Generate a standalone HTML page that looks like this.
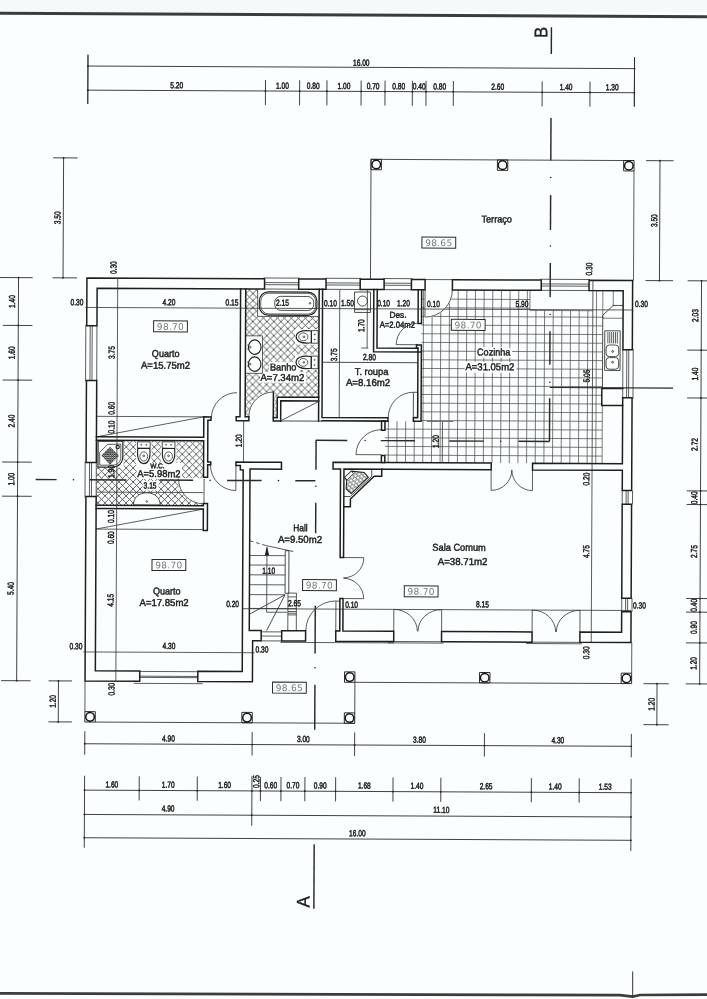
<!DOCTYPE html>
<html lang="pt"><head><meta charset="utf-8"><title>Planta</title>
<style>
html,body{margin:0;padding:0;background:#fbfefe}
body{width:707px;height:999px;overflow:hidden;position:relative;font-family:"Liberation Sans",sans-serif}
svg{position:absolute;left:0;top:0;display:block;will-change:transform}
.w{stroke:#1e1e1e;stroke-width:1.5;fill:#fcfefe;stroke-linejoin:miter;stroke-linecap:square}
polyline.w,line.w{fill:none}
.t{stroke:#353535;stroke-width:.8;fill:none}
.tn{stroke:#2e2e2e;stroke-width:.85;fill:none}
.fx{stroke:#222;stroke-width:1.15;fill:none}
.td{stroke:#333;stroke-width:.8;fill:none;stroke-dasharray:4 2.5}
.g{stroke:#444;stroke-width:.7;fill:none}
.h{fill:url(#hx);stroke:none}
.hd{fill:url(#hdd);stroke:none}
.fb{fill:url(#hb);stroke:#222;stroke-width:1.1}
.wf{fill:#fcfefe;stroke:none}
.ws{fill:#fcfefe;stroke:#fcfefe;stroke-width:1.2}
.wfs{fill:#fcfefe;stroke:#2e2e2e;stroke-width:.85}
.k{fill:#222;stroke:none}
.dl{stroke:#2c2c2c;stroke-width:.9;fill:none}
.s{stroke:#2a2a2a;stroke-width:1.45;fill:none}
.c1{stroke:#222;stroke-width:.95;fill:none}
.c2{stroke:#151515;stroke-width:1.5;fill:none}
.hl{stroke:#262626;stroke-width:1.15;fill:none}
.gy{stroke:#777;stroke-width:1.1;fill:none}
.lv{fill:#fcfefe;stroke:#2a2a2a;stroke-width:1}
text{font-family:"Liberation Sans",sans-serif;text-anchor:middle;fill:#1c1c1c;stroke:#1c1c1c;stroke-width:.3px;text-rendering:geometricPrecision}
.d{font-size:8.8px;stroke-width:.5px}
.l{font-size:10px;stroke-width:.45px}
.lt{font-family:"DejaVu Sans",sans-serif;font-size:9px;fill:#777;stroke:none;letter-spacing:.3px}
.sec{font-size:18.3px;fill:#222;stroke-width:.35px}
</style></head>
<body>
<svg width="707" height="999" viewBox="0 0 707 999">
<defs>
<pattern id="hx" width="7" height="7" patternUnits="userSpaceOnUse"><path d="M0 0L7 7M7 0L0 7" stroke="#3c3c3c" stroke-width=".8" fill="none"/></pattern>
<pattern id="hdd" width="2.2" height="2.2" patternUnits="userSpaceOnUse"><path d="M0 0L2.2 2.2M2.2 0L0 2.2" stroke="#2a2a2a" stroke-width=".75" fill="none"/></pattern>
<pattern id="hb" width="3.4" height="6.8" patternUnits="userSpaceOnUse" patternTransform="rotate(42)"><path d="M0 1.7H3.4M0 5.1H3.4M0.9 1.7V5.1M2.6 5.1V8.5M2.6 -1.7V1.7" stroke="#333" stroke-width=".55" fill="none"/></pattern>
</defs>
<rect x="0" y="0" width="707" height="12" fill="#f6f9f9"/>
<path d="M0 13.3L707 16.7" stroke="#3c3c3c" stroke-width="3.1" fill="none"/>
<path d="M0 993.4L527 994.9L620 995.2L632.7 996.6L640 995L707 994.6" stroke="#3c3c3c" stroke-width="2.7" fill="none"/>
<path d="M632.7 971.5V996.5" stroke="#333" stroke-width="1" fill="none"/>
<g transform="rotate(0.27 353 500)">
<g id="L-hatch">
<rect class="h" x="244.74" y="289.45" width="73.45" height="107.85"/>
<rect class="h" x="244.74" y="397.3" width="28.16" height="20"/>
<rect class="h" x="272.9" y="397.3" width="3.9" height="20.7"/>
<rect class="h" x="96.15" y="441.46" width="107.26" height="64.9"/>
<path class="g" d="M388 420.96V462.4M396.65 420.96V462.4M405.3 420.96V462.4M413.95 420.96V462.4M422.6 289.45V462.4M431.25 289.45V462.4M439.9 289.45V462.4M448.55 289.45V462.4M457.2 289.45V462.4M465.85 289.45V462.4M474.5 289.45V462.4M483.15 289.45V462.4M491.8 289.45V462.4M500.45 289.45V462.4M509.1 289.45V462.4M517.75 289.45V462.4M526.4 289.45V462.4M535.05 309.6V462.4M543.7 309.6V462.4M552.35 309.6V462.4M561 309.6V462.4M569.65 309.6V462.4M578.3 309.6V462.4M586.95 309.6V462.4M595.6 289.45V462.4M420.67 298.68H529M420.67 307.36H529M420.67 316.04H601.9M420.67 324.72H601.9M420.67 333.4H601.9M420.67 342.08H601.9M420.67 350.76H601.9M420.67 359.44H601.9M420.67 368.12H601.9M420.67 376.8H601.9M420.67 385.48H601.9M420.67 394.16H601.9M420.67 402.84H601.9M420.67 411.52H601.9M420.67 420.2H601.9M384.6 428.88H601.9M384.6 437.56H601.9M384.6 446.24H601.9M384.6 454.92H601.9M529 289.45V309.6H592M601.9 289.45V317M612.3 289.45V305.2M601.9 317H622.21"/>
<line class="g" x1="601.9" y1="404.3" x2="601.9" y2="462.4"/>
</g>
<g id="L-fill">
<path class="ws" d="M203.41 479.5L178.41 479.5A25 25 0 0 0 203.41 504.5Z"/>
<path class="ws" d="M273.4 417.3L248.4 417.3A25 25 0 0 1 273.4 392.3Z"/>
<path class="ws" d="M380.8 454.6L380.8 429.6A25 25 0 0 0 355.8 454.6Z"/>
<path class="ws" d="M424.08 289.45L451.38 289.45A27.3 27.3 0 0 1 424.08 316.75Z"/>
<rect class="wf" x="256.7" y="289.45" width="61.49" height="27.35"/>
<rect class="wf" x="294.2" y="329.4" width="24" height="15.4"/>
<rect class="wf" x="294.2" y="354.9" width="24" height="15.4"/>
<rect class="wf" x="244.74" y="336.3" width="17.06" height="37.5"/>
<rect class="wf" x="135.8" y="441.8" width="15.5" height="24"/>
<rect class="wf" x="160.6" y="441.7" width="15.5" height="24"/>
<rect class="wf" x="96.15" y="441.46" width="27.05" height="27.34"/>
<rect class="wf" x="268.5" y="362.5" width="29" height="9.8"/>
<rect class="wf" x="259.5" y="372.3" width="46" height="10.7"/>
<rect class="wf" x="475.5" y="346.5" width="36" height="10.5"/>
<rect class="wf" x="464" y="361" width="52" height="11"/>
<rect class="wf" x="136.5" y="463.8" width="45.5" height="16.2"/>
<rect class="wf" x="142.5" y="481.8" width="16" height="9.7"/>
</g>
<g id="L-thin">
<line class="t" x1="262.53" y1="278.4" x2="298.69" y2="278.4"/>
<line class="t" x1="263.53" y1="283" x2="297.69" y2="283"/>
<line class="t" x1="263.53" y1="285.1" x2="297.69" y2="285.1"/>
<line class="t" x1="263.53" y1="289.45" x2="297.69" y2="289.45"/>
<line class="t" x1="324.02" y1="278.4" x2="360.18" y2="278.4"/>
<line class="t" x1="325.02" y1="283" x2="359.18" y2="283"/>
<line class="t" x1="325.02" y1="285.1" x2="359.18" y2="285.1"/>
<line class="t" x1="325.02" y1="289.45" x2="359.18" y2="289.45"/>
<line class="t" x1="382.09" y1="278.4" x2="411.42" y2="278.4"/>
<line class="t" x1="383.09" y1="283" x2="410.42" y2="283"/>
<line class="t" x1="383.09" y1="285.1" x2="410.42" y2="285.1"/>
<line class="t" x1="383.09" y1="289.45" x2="410.42" y2="289.45"/>
<line class="t" x1="539.23" y1="278.4" x2="589.05" y2="278.4"/>
<line class="t" x1="540.23" y1="283" x2="588.05" y2="283"/>
<line class="t" x1="540.23" y1="285.1" x2="588.05" y2="285.1"/>
<line class="t" x1="540.23" y1="289.45" x2="588.05" y2="289.45"/>
<line class="t" x1="85" y1="326.02" x2="85" y2="382.68"/>
<line class="t" x1="89.4" y1="327.02" x2="89.4" y2="381.68"/>
<line class="t" x1="91.4" y1="327.02" x2="91.4" y2="381.68"/>
<line class="t" x1="96.15" y1="327.02" x2="96.15" y2="381.68"/>
<line class="t" x1="85" y1="462.66" x2="85" y2="498.82"/>
<line class="t" x1="89.4" y1="463.66" x2="89.4" y2="497.82"/>
<line class="t" x1="91.4" y1="463.66" x2="91.4" y2="497.82"/>
<line class="t" x1="96.15" y1="463.66" x2="96.15" y2="497.82"/>
<line class="t" x1="632.5" y1="347.54" x2="632.5" y2="397.37"/>
<line class="t" x1="628.1" y1="348.54" x2="628.1" y2="396.37"/>
<line class="t" x1="626.1" y1="348.54" x2="626.1" y2="396.37"/>
<line class="t" x1="622.21" y1="348.54" x2="622.21" y2="396.37"/>
<line class="t" x1="632.5" y1="489.28" x2="632.5" y2="502.95"/>
<line class="t" x1="628.1" y1="489.28" x2="628.1" y2="502.95"/>
<line class="t" x1="626.1" y1="489.28" x2="626.1" y2="502.95"/>
<line class="t" x1="622.21" y1="489.28" x2="622.21" y2="502.95"/>
<line class="t" x1="632.5" y1="596.89" x2="632.5" y2="610.55"/>
<line class="t" x1="628.1" y1="596.89" x2="628.1" y2="610.55"/>
<line class="t" x1="626.1" y1="596.89" x2="626.1" y2="610.55"/>
<line class="t" x1="622.21" y1="596.89" x2="622.21" y2="610.55"/>
<line class="t" x1="134.56" y1="684.39" x2="203.63" y2="684.39"/>
<line class="t" x1="140.56" y1="678.39" x2="198.63" y2="678.39"/>
<line class="t" x1="140.56" y1="677.19" x2="198.63" y2="677.19"/>
<line class="t" x1="140.56" y1="672.44" x2="198.63" y2="672.44"/>
<line class="t" x1="261.82" y1="632.25" x2="282.32" y2="632.25"/>
<line class="t" x1="261.82" y1="636.45" x2="282.32" y2="636.45"/>
<line class="t" x1="261.82" y1="641.3" x2="282.32" y2="641.3"/>
<line class="t" x1="424.08" y1="279.2" x2="451.41" y2="279.2"/>
<line class="t" x1="281" y1="642.7" x2="394.5" y2="642.7"/>
<line class="t" x1="388.36" y1="642.7" x2="444.19" y2="642.7"/>
<line class="t" x1="526.71" y1="642.7" x2="582.54" y2="642.7"/>
<line class="t" x1="394.36" y1="641.3" x2="442.19" y2="641.3"/>
<line class="t" x1="532.71" y1="641.3" x2="580.54" y2="641.3"/>
<path class="t" d="M211 418.7A25.5 25.5 0 0 1 236.5 393.2"/>
<path class="t" d="M210.3 465.6A25.5 25.5 0 0 0 235.8 491.1"/>
<line class="t" x1="235.8" y1="465.9" x2="235.8" y2="491.1"/>
<path class="t" d="M178.41 479.5A25 25 0 0 0 203.41 504.5"/>
<line class="t" x1="204.01" y1="479.5" x2="204.01" y2="504.3"/>
<path class="t" d="M248.4 417.3A25 25 0 0 1 273.4 392.3"/>
<path class="t" d="M416.95 322.9A21.5 21.5 0 0 0 395.45 344.4"/>
<line class="t" x1="395.45" y1="344.4" x2="417.25" y2="344.4"/>
<path class="t" d="M412.9 392A25 25 0 0 0 387.9 417"/>
<rect class="tn" x="412.9" y="392" width="4.35" height="25"/>
<path class="t" d="M380.8 429.6A25 25 0 0 0 355.8 454.6"/>
<line class="t" x1="355.8" y1="454.6" x2="381.2" y2="454.6"/>
<path class="t" d="M336.4 601.05A30 30 0 0 0 306.4 631.05"/>
<rect class="t" x="336.4" y="601.2" width="3.99" height="29.85"/>
<path class="t" d="M451.38 289.45A27.3 27.3 0 0 1 424.08 316.75"/>
<line class="t" x1="424.08" y1="289.45" x2="424.08" y2="316.75"/>
<path class="t" d="M364.11 557.6A20.3 20.3 0 0 1 343.81 577.9"/>
<line class="t" x1="343.81" y1="557.6" x2="364.11" y2="557.6"/>
<path class="t" d="M364.11 598.6A20.3 20.3 0 0 0 343.81 578.3"/>
<line class="t" x1="343.81" y1="598.6" x2="364.11" y2="598.6"/>
<path class="t" d="M491.04 489.76A20.66 20.66 0 0 0 511.71 469.1"/>
<line class="t" x1="491.04" y1="469.1" x2="491.04" y2="489.76"/>
<path class="t" d="M532.37 489.76A20.66 20.66 0 0 1 511.71 469.1"/>
<line class="t" x1="532.37" y1="469.1" x2="532.37" y2="489.76"/>
<path class="t" d="M394.36 609.2A23.61 21.85 0 0 1 417.98 631.05"/>
<line class="t" x1="394.36" y1="631.05" x2="394.36" y2="609.2"/>
<path class="t" d="M442.19 609.2A23.61 21.85 0 0 0 418.57 631.05"/>
<line class="t" x1="442.19" y1="631.05" x2="442.19" y2="609.2"/>
<path class="t" d="M532.71 609.2A23.61 21.85 0 0 1 556.33 631.05"/>
<line class="t" x1="532.71" y1="631.05" x2="532.71" y2="609.2"/>
<path class="t" d="M580.54 609.2A23.61 21.85 0 0 0 556.92 631.05"/>
<line class="t" x1="580.54" y1="631.05" x2="580.54" y2="609.2"/>
<polyline class="t" points="256.7,289.45 256.7,316.8 318.19,316.8"/>
<rect class="fx" x="258.4" y="292.3" width="57.6" height="23.3" rx="9" ry="9"/>
<rect class="t" x="259.8" y="293.6" width="54.9" height="20.7" rx="8" ry="8"/>
<rect class="tn" x="273.8" y="296.7" width="39" height="14" rx="6" ry="6"/>
<circle class="t" cx="309" cy="303.5" r="0.8"/>
<rect class="tn" x="310.6" y="330.8" width="6.8" height="12.6"/>
<path class="fx" d="M310.6 331.2C299 329.8 295.4 333.6 295.4 337.1C295.4 340.6 299 344.4 310.6 343Z"/>
<ellipse class="t" cx="302.6" cy="337.1" rx="4.6" ry="3.9"/>
<circle class="t" cx="303.2" cy="337.1" r="0.9"/>
<circle class="t" cx="314" cy="334.6" r="0.5"/>
<circle class="t" cx="314" cy="339.6" r="0.5"/>
<rect class="tn" x="310.6" y="356.3" width="6.8" height="12.6"/>
<path class="fx" d="M310.6 356.7C299 355.3 295.4 359.1 295.4 362.6C295.4 366.1 299 369.9 310.6 368.5Z"/>
<ellipse class="t" cx="302.6" cy="362.6" rx="4.6" ry="3.9"/>
<circle class="t" cx="303.2" cy="362.6" r="0.9"/>
<circle class="t" cx="314" cy="360.1" r="0.5"/>
<circle class="t" cx="314" cy="365.1" r="0.5"/>
<polyline class="t" points="244.74,336.3 261.8,336.3 261.8,373.8 244.74,373.8"/>
<ellipse class="fx" cx="254" cy="347.6" rx="6.3" ry="7.2"/>
<circle class="t" cx="249.6" cy="347.6" r="0.8"/>
<line class="t" x1="246.5" y1="345.6" x2="248.8" y2="345.6"/>
<line class="t" x1="246.5" y1="349.6" x2="248.8" y2="349.6"/>
<ellipse class="fx" cx="254" cy="364.6" rx="6.3" ry="7.2"/>
<circle class="t" cx="249.6" cy="364.6" r="0.8"/>
<line class="t" x1="246.5" y1="362.6" x2="248.8" y2="362.6"/>
<line class="t" x1="246.5" y1="366.6" x2="248.8" y2="366.6"/>
<rect class="tn" x="137.2" y="442.8" width="12.7" height="6.6"/>
<path class="fx" d="M137.6 449.4C136.2 461 140 464.6 143.55 464.6C147.1 464.6 150.9 461 149.5 449.4Z"/>
<ellipse class="t" cx="143.55" cy="457.4" rx="3.9" ry="4.6"/>
<circle class="t" cx="143.55" cy="456.8" r="0.9"/>
<circle class="t" cx="141" cy="445.8" r="0.5"/>
<circle class="t" cx="146" cy="445.8" r="0.5"/>
<rect class="tn" x="162" y="442.7" width="12.7" height="6.6"/>
<path class="fx" d="M162.4 449.3C161 460.9 164.8 464.5 168.35 464.5C171.9 464.5 175.7 460.9 174.3 449.3Z"/>
<ellipse class="t" cx="168.35" cy="457.3" rx="3.9" ry="4.6"/>
<circle class="t" cx="168.35" cy="456.7" r="0.9"/>
<circle class="t" cx="165.8" cy="445.7" r="0.5"/>
<circle class="t" cx="170.8" cy="445.7" r="0.5"/>
<path class="fx" d="M97.8 442.26H122.6V457.8C122.6 463.8 118.6 468.3 112.6 468.3H97.8Z"/>
<path class="t" d="M99.4 453.6L107.2 445.6L120.6 445.2V458C120.6 462.6 117.6 466.2 113 466.2L99.6 466.4Z"/>
<polygon class="hd" points="109.9,447.8 118.9,456.8 109.9,465.8 100.9,456.8"/>
<circle class="fx" cx="117.4" cy="448.2" r="1.7"/>
<path class="wfs" d="M133.4 505.96C133.4 497.96 139.8 493.76 146.8 493.76C153.8 493.76 160.2 497.96 160.2 505.96Z"/>
<circle class="t" cx="146.8" cy="502.46" r="0.8"/>
<rect class="tn" x="353.6" y="292" width="16" height="20.4"/>
<circle class="tn" cx="361.6" cy="301" r="5"/>
<line class="t" x1="353.6" y1="309.6" x2="369.6" y2="309.6"/>
<polyline class="tn" points="601.9,387.3 601.9,314.2 612.2,304.2 622.21,304.2"/>
<rect class="wfs" x="604" y="329.6" width="15.4" height="39.6"/>
<line class="t" x1="607.1" y1="330.8" x2="607.1" y2="342.2"/>
<line class="t" x1="609" y1="330.8" x2="609" y2="342.2"/>
<line class="t" x1="610.9" y1="330.8" x2="610.9" y2="342.2"/>
<line class="t" x1="612.8" y1="330.8" x2="612.8" y2="342.2"/>
<line class="t" x1="614.7" y1="330.8" x2="614.7" y2="342.2"/>
<line class="t" x1="616.6" y1="330.8" x2="616.6" y2="342.2"/>
<rect class="tn" x="605.4" y="343.8" width="12.6" height="11.6" rx="3.2"/>
<rect class="tn" x="605.4" y="356.4" width="12.6" height="11.6" rx="3.2"/>
<circle class="tn" cx="612" cy="350.2" r="0.9"/>
<circle class="tn" cx="612" cy="361" r="0.9"/>
<line class="t" x1="96.15" y1="417.55" x2="203.41" y2="417.55"/>
<line class="t" x1="96.15" y1="438.04" x2="203.41" y2="417.55"/>
<line class="t" x1="96.15" y1="530.28" x2="203.41" y2="530.28"/>
<line class="t" x1="96.15" y1="530.28" x2="203.41" y2="509.78"/>
<line class="t" x1="249.87" y1="556" x2="285.5" y2="556"/>
<line class="t" x1="249.87" y1="565.5" x2="285.5" y2="565.5"/>
<line class="t" x1="249.87" y1="575.3" x2="285.5" y2="575.3"/>
<line class="t" x1="249.87" y1="585.2" x2="285.5" y2="585.2"/>
<line class="t" x1="249.87" y1="595.1" x2="285.5" y2="595.1"/>
<line class="td" x1="249.87" y1="541.2" x2="266.3" y2="546"/>
<line class="t" x1="266.3" y1="546" x2="293.6" y2="551.8"/>
<rect class="tn" x="285.5" y="551" width="3.7" height="42.6"/>
<rect class="t" x="288.4" y="593.4" width="8.5" height="37.65"/>
<line class="t" x1="288.4" y1="597.2" x2="296.9" y2="597.2"/>
<polyline class="t" points="267.2,548 267.2,612.6 287.6,612.6"/>
<polygon class="k" points="267.2,546.4 269.4,555.8 265,555.8"/>
<line class="tn" x1="285.5" y1="595.1" x2="249.87" y2="614.8"/>
<line class="tn" x1="285.5" y1="595.1" x2="267.2" y2="631"/>
<line class="t" x1="288.4" y1="611.8" x2="296.9" y2="611.8"/>
<line class="t" x1="288.4" y1="613.5" x2="296.9" y2="613.5"/>
<line class="t" x1="288.4" y1="615.2" x2="296.9" y2="615.2"/>
<line class="t" x1="249.87" y1="608.9" x2="296.9" y2="608.9"/>
<line class="tn" x1="371.6" y1="469.1" x2="371.6" y2="476.2"/>
<line class="tn" x1="343.81" y1="496.6" x2="350.2" y2="496.6"/>
<line class="tn" x1="371.6" y1="476.2" x2="350.2" y2="496.6"/>
<polygon class="fb" points="344.6,477.5 351.2,471.2 364,472.4 368.2,477.1 351.2,493.6 346.1,489 346.6,480.5"/>
<polygon class="wfs" points="344.6,477.4 351,471.3 353.4,473.6 347.1,479.8"/>
<line class="tn" x1="369.43" y1="159.25" x2="632.46" y2="159.25"/>
<line class="tn" x1="369.43" y1="159.25" x2="369.43" y2="279.2"/>
<line class="t" x1="632.46" y1="169.65" x2="632.46" y2="279.2"/>
<rect class="c1" x="369.43" y="159.25" width="10.4" height="10.4"/>
<circle class="c2" cx="374.63" cy="164.45" r="4.3"/>
<rect class="c1" x="495.82" y="159.25" width="10.4" height="10.4"/>
<circle class="c2" cx="501.02" cy="164.45" r="4.3"/>
<rect class="c1" x="622.06" y="159.25" width="10.4" height="10.4"/>
<circle class="c2" cx="627.26" cy="164.45" r="4.3"/>
<line class="tn" x1="96.15" y1="723.28" x2="355.76" y2="723.28"/>
<line class="t" x1="85.9" y1="682.29" x2="85.9" y2="713.03"/>
<rect class="c1" x="85.9" y="712.88" width="10.4" height="10.4"/>
<circle class="c2" cx="91.1" cy="718.08" r="4.3"/>
<rect class="c1" x="242.88" y="712.88" width="10.4" height="10.4"/>
<circle class="c2" cx="248.08" cy="718.08" r="4.3"/>
<rect class="c1" x="345.36" y="712.88" width="10.4" height="10.4"/>
<circle class="c2" cx="350.56" cy="718.08" r="4.3"/>
<line class="tn" x1="355.76" y1="682.29" x2="355.76" y2="712.88"/>
<line class="tn" x1="355.76" y1="682.29" x2="622.21" y2="682.29"/>
<rect class="c1" x="345.36" y="671.89" width="10.4" height="10.4"/>
<circle class="c2" cx="350.56" cy="677.09" r="4.3"/>
<rect class="c1" x="480.37" y="671.89" width="10.4" height="10.4"/>
<circle class="c2" cx="485.57" cy="677.09" r="4.3"/>
<rect class="c1" x="622.06" y="671.89" width="10.4" height="10.4"/>
<circle class="c2" cx="627.26" cy="677.09" r="4.3"/>
<line class="t" x1="632.46" y1="641.3" x2="632.46" y2="671.89"/>
</g>
<g id="L-wall">
<polygon class="w" points="85.9,279.2 263.53,279.2 263.53,289.45 96.15,289.45 96.15,327.02 85.9,327.02"/>
<rect class="w" x="297.69" y="279.2" width="27.33" height="10.25"/>
<rect class="w" x="359.18" y="279.2" width="23.91" height="10.25"/>
<rect class="w" x="410.42" y="279.2" width="13.66" height="10.25"/>
<rect class="w" x="451.41" y="279.2" width="88.82" height="10.25"/>
<polygon class="w" points="588.05,279.2 631.6,279.2 631.6,348.54 622.21,348.54 622.21,289.45 588.05,289.45"/>
<polygon class="w" points="622.21,396.37 631.6,396.37 631.6,489.28 622.21,489.28 622.21,469.1 532.37,469.1 532.37,462.4 622.21,462.4"/>
<rect class="w" x="622.21" y="502.95" width="9.39" height="93.94"/>
<polygon class="w" points="631.6,610.55 631.6,641.3 580.54,641.3 580.54,631.05 622.21,631.05 622.21,610.55"/>
<rect class="w" x="442.19" y="631.05" width="90.52" height="10.25"/>
<polygon class="w" points="340.39,598.6 343.51,598.6 343.51,631.05 394.36,631.05 394.36,641.3 336.4,641.3 336.4,631.05 340.39,631.05"/>
<polygon class="w" points="332.9,462.4 491.04,462.4 491.04,469.1 343.81,469.1 343.81,557.6 340.39,557.6 340.39,469.1 332.9,469.1"/>
<rect class="w" x="381.2" y="420.96" width="3.4" height="9.04"/>
<rect class="w" x="381.2" y="455.3" width="3.4" height="7.1"/>
<rect class="w" x="85.9" y="381.68" width="10.25" height="81.98"/>
<polygon class="w" points="85.9,497.82 96.15,497.82 96.15,672.04 140.56,672.04 140.56,682.29 85.9,682.29"/>
<polygon class="w" points="198.63,672.04 243.04,672.04 243.04,470.4 240.2,470.4 240.2,466.1 235.8,466.1 235.8,462.6 281.3,462.6 281.3,469.5 249.87,469.5 249.87,631.05 261.82,631.05 261.82,641.3 253.28,641.3 253.28,682.29 198.63,682.29"/>
<rect class="w" x="282.32" y="631.05" width="23.91" height="10.25"/>
<polyline class="w" points="239.62,289.45 239.62,417.2 235.8,417.2 235.8,421.2 248.5,421.2 248.5,417.2 244.74,417.2 244.74,289.45"/>
<polyline class="w" points="318.19,289.45 318.19,421.3"/>
<polyline class="w" points="321.6,289.45 321.6,417.55 387.6,417.55 387.6,420.96 321.6,420.96"/>
<polyline class="w" points="272.9,392.3 272.9,421.3 280.3,421.3"/>
<polyline class="w" points="318.19,397.5 276.8,397.5 276.8,418 272.9,418"/>
<polyline class="w" points="318.19,401.1 280.3,401.1 280.3,421.3"/>
<polyline class="w" points="372.84,289.45 372.84,351.6 420.67,351.6"/>
<polyline class="w" points="376.26,289.45 376.26,347.9 417.25,347.9"/>
<polyline class="w" points="417.25,289.45 417.25,323.2 420.67,323.2 420.67,289.45"/>
<polyline class="w" points="417.25,347.9 417.25,417.55 413,417.55 413,420.96 420.67,420.96 420.67,344.8 415.75,344.8 415.75,347.9"/>
<polyline class="w" points="96.15,438.04 203.41,438.04 203.41,417.55 210.58,417.55 210.58,420.95 207.51,420.95 207.51,462.6 210.58,462.6 210.58,465.4 207.51,465.4 207.51,478 203.41,478 203.41,441.46 96.15,441.46"/>
<polyline class="w" points="96.15,506.36 203.41,506.36 203.41,504.3 207.51,504.3 207.51,531.2 203.41,531.2 203.41,509.78 96.15,509.78"/>
<polyline class="w" points="622.21,387.3 601.3,387.3 601.3,404.3 622.21,404.3"/>
<polyline class="w" points="381.6,469.1 381.6,476.2 374,476.2 350.4,499 350.4,506.8 343.81,506.8"/>
</g>
<g id="L-dim">
<line class="tn" x1="280.3" y1="421.3" x2="321.6" y2="421.3"/>
<line class="t" x1="281" y1="420.8" x2="317.6" y2="402"/>
<line class="s" x1="549.2" y1="26.4" x2="549.2" y2="53.1"/>
<line class="s" x1="549.2" y1="117" x2="549.2" y2="159.6"/>
<line class="s" x1="549.2" y1="194.2" x2="549.2" y2="229"/>
<line class="s" x1="549.2" y1="262" x2="549.2" y2="296.2"/>
<line class="s" x1="549.2" y1="330.4" x2="549.2" y2="363.8"/>
<line class="s" x1="549.2" y1="397.4" x2="549.2" y2="440.5"/>
<circle class="k" cx="549.2" cy="176.6" r="0.8"/>
<circle class="k" cx="549.2" cy="245" r="0.8"/>
<circle class="k" cx="549.2" cy="313.6" r="0.8"/>
<circle class="k" cx="549.2" cy="381.3" r="0.8"/>
<line class="s" x1="315.5" y1="440.5" x2="347" y2="440.5"/>
<line class="s" x1="380.5" y1="440.5" x2="414.6" y2="440.5"/>
<line class="s" x1="449" y1="440.5" x2="483.5" y2="440.5"/>
<line class="s" x1="518.2" y1="440.5" x2="549.2" y2="440.5"/>
<circle class="k" cx="364.8" cy="440.5" r="0.8"/>
<circle class="k" cx="500.4" cy="440.5" r="0.8"/>
<line class="s" x1="315.8" y1="440.5" x2="315.8" y2="469.9"/>
<line class="s" x1="315.8" y1="503" x2="315.8" y2="533.4"/>
<line class="s" x1="315.8" y1="606" x2="315.8" y2="653.6"/>
<line class="s" x1="315.8" y1="685" x2="315.8" y2="730"/>
<line class="s" x1="315.8" y1="844.4" x2="315.8" y2="909"/>
<circle class="k" cx="315.8" cy="486.5" r="0.8"/>
<circle class="k" cx="315.8" cy="667.9" r="0.8"/>
<line class="s" x1="35.6" y1="481" x2="56.5" y2="481"/>
<line class="s" x1="89.7" y1="481" x2="126.5" y2="481"/>
<line class="s" x1="159.6" y1="481" x2="193" y2="481"/>
<line class="s" x1="227" y1="481" x2="261.5" y2="481"/>
<line class="s" x1="295.2" y1="481" x2="315.3" y2="481"/>
<circle class="k" cx="73.4" cy="481" r="0.8"/>
<circle class="k" cx="210" cy="481" r="0.8"/>
<circle class="k" cx="278.4" cy="481" r="0.8"/>
<line class="dl" x1="85.9" y1="67.3" x2="632.46" y2="67.3"/>
<line class="dl" x1="85.9" y1="56" x2="85.9" y2="105.3"/>
<circle class="k" cx="85.9" cy="67.3" r="0.9"/>
<line class="dl" x1="632.46" y1="56" x2="632.46" y2="105.3"/>
<circle class="k" cx="632.46" cy="67.3" r="0.9"/>
<text class="d" x="359.18" y="65.67" textLength="16.53" lengthAdjust="spacingAndGlyphs" style="font-size:8.8px">16.00</text>
<line class="dl" x1="85.9" y1="91.4" x2="632.46" y2="91.4"/>
<line class="dl" x1="85.9" y1="56" x2="85.9" y2="105.3"/>
<circle class="k" cx="85.9" cy="91.4" r="0.9"/>
<line class="dl" x1="263.53" y1="80.5" x2="263.53" y2="105.5"/>
<circle class="k" cx="263.53" cy="91.4" r="0.9"/>
<line class="dl" x1="297.69" y1="80.5" x2="297.69" y2="105.5"/>
<circle class="k" cx="297.69" cy="91.4" r="0.9"/>
<line class="dl" x1="325.02" y1="80.5" x2="325.02" y2="105.5"/>
<circle class="k" cx="325.02" cy="91.4" r="0.9"/>
<line class="dl" x1="359.18" y1="80.5" x2="359.18" y2="105.5"/>
<circle class="k" cx="359.18" cy="91.4" r="0.9"/>
<line class="dl" x1="383.09" y1="80.5" x2="383.09" y2="105.5"/>
<circle class="k" cx="383.09" cy="91.4" r="0.9"/>
<line class="dl" x1="410.42" y1="80.5" x2="410.42" y2="105.5"/>
<circle class="k" cx="410.42" cy="91.4" r="0.9"/>
<line class="dl" x1="424.08" y1="80.5" x2="424.08" y2="105.5"/>
<circle class="k" cx="424.08" cy="91.4" r="0.9"/>
<line class="dl" x1="451.41" y1="80.5" x2="451.41" y2="105.5"/>
<circle class="k" cx="451.41" cy="91.4" r="0.9"/>
<line class="dl" x1="540.23" y1="80.5" x2="540.23" y2="105.5"/>
<circle class="k" cx="540.23" cy="91.4" r="0.9"/>
<line class="dl" x1="588.05" y1="80.5" x2="588.05" y2="105.5"/>
<circle class="k" cx="588.05" cy="91.4" r="0.9"/>
<line class="dl" x1="632.46" y1="56" x2="632.46" y2="105.3"/>
<circle class="k" cx="632.46" cy="91.4" r="0.9"/>
<text class="d" x="174.71" y="89.07" textLength="12.86" lengthAdjust="spacingAndGlyphs" style="font-size:8.8px">5.20</text>
<text class="d" x="280.61" y="89.07" textLength="12.86" lengthAdjust="spacingAndGlyphs" style="font-size:8.8px">1.00</text>
<text class="d" x="311.36" y="89.07" textLength="12.86" lengthAdjust="spacingAndGlyphs" style="font-size:8.8px">0.80</text>
<text class="d" x="342.1" y="89.07" textLength="12.86" lengthAdjust="spacingAndGlyphs" style="font-size:8.8px">1.00</text>
<text class="d" x="371.13" y="89.07" textLength="12.86" lengthAdjust="spacingAndGlyphs" style="font-size:8.8px">0.70</text>
<text class="d" x="396.75" y="89.07" textLength="12.86" lengthAdjust="spacingAndGlyphs" style="font-size:8.8px">0.80</text>
<text class="d" x="417.25" y="89.07" textLength="12.86" lengthAdjust="spacingAndGlyphs" style="font-size:8.8px">0.40</text>
<text class="d" x="437.75" y="89.07" textLength="12.86" lengthAdjust="spacingAndGlyphs" style="font-size:8.8px">0.80</text>
<text class="d" x="495.82" y="89.07" textLength="12.86" lengthAdjust="spacingAndGlyphs" style="font-size:8.8px">2.60</text>
<text class="d" x="564.14" y="89.07" textLength="12.86" lengthAdjust="spacingAndGlyphs" style="font-size:8.8px">1.40</text>
<text class="d" x="610.25" y="89.07" textLength="12.86" lengthAdjust="spacingAndGlyphs" style="font-size:8.8px">1.30</text>
<line class="dl" x1="85.9" y1="745" x2="632.46" y2="745"/>
<line class="dl" x1="85.9" y1="732.5" x2="85.9" y2="756"/>
<circle class="k" cx="85.9" cy="745" r="0.9"/>
<line class="dl" x1="253.28" y1="732.5" x2="253.28" y2="756"/>
<circle class="k" cx="253.28" cy="745" r="0.9"/>
<line class="dl" x1="355.76" y1="732.5" x2="355.76" y2="756"/>
<circle class="k" cx="355.76" cy="745" r="0.9"/>
<line class="dl" x1="485.57" y1="732.5" x2="485.57" y2="756"/>
<circle class="k" cx="485.57" cy="745" r="0.9"/>
<line class="dl" x1="632.46" y1="732.5" x2="632.46" y2="756"/>
<circle class="k" cx="632.46" cy="745" r="0.9"/>
<text class="d" x="169.59" y="742.37" textLength="12.86" lengthAdjust="spacingAndGlyphs" style="font-size:8.8px">4.90</text>
<text class="d" x="304.52" y="742.37" textLength="12.86" lengthAdjust="spacingAndGlyphs" style="font-size:8.8px">3.00</text>
<text class="d" x="420.66" y="742.37" textLength="12.86" lengthAdjust="spacingAndGlyphs" style="font-size:8.8px">3.80</text>
<text class="d" x="559.01" y="742.37" textLength="12.86" lengthAdjust="spacingAndGlyphs" style="font-size:8.8px">4.30</text>
<line class="dl" x1="85.9" y1="791.4" x2="632.46" y2="791.4"/>
<line class="dl" x1="85.9" y1="777" x2="85.9" y2="849"/>
<circle class="k" cx="85.9" cy="791.4" r="0.9"/>
<line class="dl" x1="140.56" y1="777.3" x2="140.56" y2="801.5"/>
<circle class="k" cx="140.56" cy="791.4" r="0.9"/>
<line class="dl" x1="198.63" y1="777.3" x2="198.63" y2="801.5"/>
<circle class="k" cx="198.63" cy="791.4" r="0.9"/>
<line class="dl" x1="253.28" y1="776.6" x2="253.28" y2="826.2"/>
<circle class="k" cx="253.28" cy="791.4" r="0.9"/>
<line class="dl" x1="261.82" y1="777.3" x2="261.82" y2="801.5"/>
<circle class="k" cx="261.82" cy="791.4" r="0.9"/>
<line class="dl" x1="282.32" y1="777.3" x2="282.32" y2="801.5"/>
<circle class="k" cx="282.32" cy="791.4" r="0.9"/>
<line class="dl" x1="306.23" y1="777.3" x2="306.23" y2="801.5"/>
<circle class="k" cx="306.23" cy="791.4" r="0.9"/>
<line class="dl" x1="336.98" y1="777.3" x2="336.98" y2="801.5"/>
<circle class="k" cx="336.98" cy="791.4" r="0.9"/>
<line class="dl" x1="394.36" y1="777.3" x2="394.36" y2="801.5"/>
<circle class="k" cx="394.36" cy="791.4" r="0.9"/>
<line class="dl" x1="442.19" y1="777.3" x2="442.19" y2="801.5"/>
<circle class="k" cx="442.19" cy="791.4" r="0.9"/>
<line class="dl" x1="532.71" y1="777.3" x2="532.71" y2="801.5"/>
<circle class="k" cx="532.71" cy="791.4" r="0.9"/>
<line class="dl" x1="580.54" y1="777.3" x2="580.54" y2="801.5"/>
<circle class="k" cx="580.54" cy="791.4" r="0.9"/>
<line class="dl" x1="632.46" y1="777.5" x2="632.46" y2="849.7"/>
<circle class="k" cx="632.46" cy="791.4" r="0.9"/>
<text class="d" x="113.23" y="788.57" textLength="12.86" lengthAdjust="spacingAndGlyphs" style="font-size:8.8px">1.60</text>
<text class="d" x="169.59" y="788.57" textLength="12.86" lengthAdjust="spacingAndGlyphs" style="font-size:8.8px">1.70</text>
<text class="d" x="225.95" y="788.57" textLength="12.86" lengthAdjust="spacingAndGlyphs" style="font-size:8.8px">1.60</text>
<text class="d" x="272.07" y="788.57" textLength="12.86" lengthAdjust="spacingAndGlyphs" style="font-size:8.8px">0.60</text>
<text class="d" x="294.27" y="788.57" textLength="12.86" lengthAdjust="spacingAndGlyphs" style="font-size:8.8px">0.70</text>
<text class="d" x="321.61" y="788.57" textLength="12.86" lengthAdjust="spacingAndGlyphs" style="font-size:8.8px">0.90</text>
<text class="d" x="365.67" y="788.57" textLength="12.86" lengthAdjust="spacingAndGlyphs" style="font-size:8.8px">1.68</text>
<text class="d" x="418.27" y="788.57" textLength="12.86" lengthAdjust="spacingAndGlyphs" style="font-size:8.8px">1.40</text>
<text class="d" x="487.45" y="788.57" textLength="12.86" lengthAdjust="spacingAndGlyphs" style="font-size:8.8px">2.65</text>
<text class="d" x="556.62" y="788.57" textLength="12.86" lengthAdjust="spacingAndGlyphs" style="font-size:8.8px">1.40</text>
<text class="d" x="606.5" y="788.57" textLength="12.86" lengthAdjust="spacingAndGlyphs" style="font-size:8.8px">1.53</text>
<text class="d" x="257.4" y="785.17" textLength="12.86" lengthAdjust="spacingAndGlyphs" transform="rotate(-90 257.4 782)" style="font-size:8.8px">0.25</text>
<line class="dl" x1="85.9" y1="815.7" x2="632.46" y2="815.7"/>
<circle class="k" cx="85.9" cy="815.7" r="0.9"/>
<circle class="k" cx="253.28" cy="815.7" r="0.9"/>
<circle class="k" cx="632.46" cy="815.7" r="0.9"/>
<text class="d" x="169.59" y="812.47" textLength="12.86" lengthAdjust="spacingAndGlyphs" style="font-size:8.8px">4.90</text>
<text class="d" x="442.87" y="812.47" textLength="16.05" lengthAdjust="spacingAndGlyphs" style="font-size:8.8px">11.10</text>
<line class="dl" x1="85.9" y1="839" x2="632.46" y2="839"/>
<circle class="k" cx="85.9" cy="839" r="0.9"/>
<circle class="k" cx="632.46" cy="839" r="0.9"/>
<text class="d" x="358.9" y="836.17" textLength="16.53" lengthAdjust="spacingAndGlyphs" style="font-size:8.8px">16.00</text>
<line class="dl" x1="17.5" y1="279.2" x2="17.5" y2="682.29"/>
<line class="dl" x1="-2" y1="279.2" x2="31.6" y2="279.2"/>
<circle class="k" cx="17.5" cy="279.2" r="0.9"/>
<line class="dl" x1="2" y1="327.02" x2="31.6" y2="327.02"/>
<circle class="k" cx="17.5" cy="327.02" r="0.9"/>
<line class="dl" x1="2" y1="381.68" x2="31.6" y2="381.68"/>
<circle class="k" cx="17.5" cy="381.68" r="0.9"/>
<line class="dl" x1="2" y1="463.66" x2="31.6" y2="463.66"/>
<circle class="k" cx="17.5" cy="463.66" r="0.9"/>
<line class="dl" x1="2" y1="497.82" x2="31.6" y2="497.82"/>
<circle class="k" cx="17.5" cy="497.82" r="0.9"/>
<line class="dl" x1="2" y1="682.29" x2="31.6" y2="682.29"/>
<circle class="k" cx="17.5" cy="682.29" r="0.9"/>
<text class="d" x="10.9" y="306.28" textLength="12.86" lengthAdjust="spacingAndGlyphs" transform="rotate(-90 10.9 303.11)" style="font-size:8.8px">1.40</text>
<text class="d" x="10.9" y="357.52" textLength="12.86" lengthAdjust="spacingAndGlyphs" transform="rotate(-90 10.9 354.35)" style="font-size:8.8px">1.60</text>
<text class="d" x="10.9" y="425.84" textLength="12.86" lengthAdjust="spacingAndGlyphs" transform="rotate(-90 10.9 422.67)" style="font-size:8.8px">2.40</text>
<text class="d" x="10.9" y="483.91" textLength="12.86" lengthAdjust="spacingAndGlyphs" transform="rotate(-90 10.9 480.74)" style="font-size:8.8px">1.00</text>
<text class="d" x="10.9" y="593.22" textLength="12.86" lengthAdjust="spacingAndGlyphs" transform="rotate(-90 10.9 590.05)" style="font-size:8.8px">5.40</text>
<line class="dl" x1="62" y1="159.25" x2="62" y2="279.2"/>
<line class="dl" x1="51.5" y1="159.25" x2="76" y2="159.25"/>
<circle class="k" cx="62" cy="159.25" r="0.9"/>
<line class="dl" x1="51.5" y1="279.2" x2="76" y2="279.2"/>
<circle class="k" cx="62" cy="279.2" r="0.9"/>
<text class="d" x="56" y="222.39" textLength="12.86" lengthAdjust="spacingAndGlyphs" transform="rotate(-90 56 219.22)" style="font-size:8.8px">3.50</text>
<line class="dl" x1="59.3" y1="682.29" x2="59.3" y2="723.28"/>
<line class="dl" x1="49.4" y1="682.29" x2="72.9" y2="682.29"/>
<circle class="k" cx="59.3" cy="682.29" r="0.9"/>
<line class="dl" x1="49.4" y1="723.28" x2="72.9" y2="723.28"/>
<circle class="k" cx="59.3" cy="723.28" r="0.9"/>
<text class="d" x="53.5" y="705.95" textLength="12.86" lengthAdjust="spacingAndGlyphs" transform="rotate(-90 53.5 702.78)" style="font-size:8.8px">1.20</text>
<line class="dl" x1="700.5" y1="279.2" x2="700.5" y2="682.29"/>
<line class="dl" x1="686.6" y1="279.2" x2="712" y2="279.2"/>
<circle class="k" cx="700.5" cy="279.2" r="0.9"/>
<line class="dl" x1="686.6" y1="348.54" x2="712" y2="348.54"/>
<circle class="k" cx="700.5" cy="348.54" r="0.9"/>
<line class="dl" x1="686.6" y1="396.37" x2="712" y2="396.37"/>
<circle class="k" cx="700.5" cy="396.37" r="0.9"/>
<line class="dl" x1="686.6" y1="489.28" x2="712" y2="489.28"/>
<circle class="k" cx="700.5" cy="489.28" r="0.9"/>
<line class="dl" x1="686.6" y1="502.95" x2="712" y2="502.95"/>
<circle class="k" cx="700.5" cy="502.95" r="0.9"/>
<line class="dl" x1="686.6" y1="596.89" x2="712" y2="596.89"/>
<circle class="k" cx="700.5" cy="596.89" r="0.9"/>
<line class="dl" x1="686.6" y1="610.55" x2="712" y2="610.55"/>
<circle class="k" cx="700.5" cy="610.55" r="0.9"/>
<line class="dl" x1="686.6" y1="641.3" x2="712" y2="641.3"/>
<circle class="k" cx="700.5" cy="641.3" r="0.9"/>
<line class="dl" x1="686.6" y1="682.29" x2="712" y2="682.29"/>
<circle class="k" cx="700.5" cy="682.29" r="0.9"/>
<text class="d" x="694.2" y="317.04" textLength="12.86" lengthAdjust="spacingAndGlyphs" transform="rotate(-90 694.2 313.87)" style="font-size:8.8px">2.03</text>
<text class="d" x="694.2" y="375.62" textLength="12.86" lengthAdjust="spacingAndGlyphs" transform="rotate(-90 694.2 372.46)" style="font-size:8.8px">1.40</text>
<text class="d" x="694.2" y="445.99" textLength="12.86" lengthAdjust="spacingAndGlyphs" transform="rotate(-90 694.2 442.82)" style="font-size:8.8px">2.72</text>
<text class="d" x="694.2" y="499.28" textLength="12.86" lengthAdjust="spacingAndGlyphs" transform="rotate(-90 694.2 496.12)" style="font-size:8.8px">0.40</text>
<text class="d" x="694.2" y="553.09" textLength="12.86" lengthAdjust="spacingAndGlyphs" transform="rotate(-90 694.2 549.92)" style="font-size:8.8px">2.75</text>
<text class="d" x="694.2" y="606.89" textLength="12.86" lengthAdjust="spacingAndGlyphs" transform="rotate(-90 694.2 603.72)" style="font-size:8.8px">0.40</text>
<text class="d" x="694.2" y="629.09" textLength="12.86" lengthAdjust="spacingAndGlyphs" transform="rotate(-90 694.2 625.92)" style="font-size:8.8px">0.90</text>
<text class="d" x="694.2" y="664.96" textLength="12.86" lengthAdjust="spacingAndGlyphs" transform="rotate(-90 694.2 661.79)" style="font-size:8.8px">1.20</text>
<line class="dl" x1="658.4" y1="159.25" x2="658.4" y2="279.2"/>
<line class="dl" x1="644.5" y1="159.25" x2="672" y2="159.25"/>
<circle class="k" cx="658.4" cy="159.25" r="0.9"/>
<line class="dl" x1="644.5" y1="279.2" x2="672" y2="279.2"/>
<circle class="k" cx="658.4" cy="279.2" r="0.9"/>
<text class="d" x="652.7" y="222.39" textLength="12.86" lengthAdjust="spacingAndGlyphs" transform="rotate(-90 652.7 219.22)" style="font-size:8.8px">3.50</text>
<line class="dl" x1="657.9" y1="682.29" x2="657.9" y2="723.28"/>
<line class="dl" x1="644.5" y1="682.29" x2="669.7" y2="682.29"/>
<circle class="k" cx="657.9" cy="682.29" r="0.9"/>
<line class="dl" x1="644.5" y1="723.28" x2="669.7" y2="723.28"/>
<circle class="k" cx="657.9" cy="723.28" r="0.9"/>
<text class="d" x="652.3" y="705.95" textLength="12.86" lengthAdjust="spacingAndGlyphs" transform="rotate(-90 652.3 702.78)" style="font-size:8.8px">1.20</text>
<line class="t" x1="84.4" y1="308.7" x2="631.56" y2="308.7"/>
<line class="t" x1="116.7" y1="279.2" x2="116.7" y2="682.29"/>
<line class="t" x1="83.9" y1="653.2" x2="255.28" y2="653.2"/>
<line class="t" x1="243.04" y1="609.2" x2="631.6" y2="609.2"/>
<line class="t" x1="338.8" y1="289.45" x2="338.8" y2="417.55"/>
<line class="t" x1="366.4" y1="289.45" x2="366.4" y2="348"/>
<line class="t" x1="360.5" y1="348" x2="367.6" y2="348"/>
<line class="tn" x1="321.6" y1="362.4" x2="417.25" y2="362.4"/>
<line class="t" x1="243.3" y1="420.96" x2="243.3" y2="462.4"/>
<line class="t" x1="442.1" y1="420.96" x2="442.1" y2="462.4"/>
<line class="gy" x1="426.6" y1="421" x2="452.8" y2="421"/>
<line class="t" x1="591.9" y1="279.2" x2="591.9" y2="641.3"/>
<line class="hl" x1="549.2" y1="386.6" x2="672.5" y2="386.6"/>
<line class="t" x1="96.15" y1="493.3" x2="203.41" y2="493.3"/>
</g>
<g id="L-text">
<text class="sec" x="538.5" y="38.15" transform="rotate(-90 538.5 31.6)" textLength="11.2" lengthAdjust="spacingAndGlyphs">B</text>
<text class="sec" x="304.8" y="908.75" transform="rotate(-90 304.8 902.2)" textLength="11.2" lengthAdjust="spacingAndGlyphs">A</text>
<text class="d" x="76.1" y="306.57" textLength="12.86" lengthAdjust="spacingAndGlyphs" style="font-size:8.8px">0.30</text>
<text class="d" x="168" y="306.17" textLength="12.86" lengthAdjust="spacingAndGlyphs" style="font-size:8.8px">4.20</text>
<text class="d" x="231.1" y="306.17" textLength="12.86" lengthAdjust="spacingAndGlyphs" style="font-size:8.8px">0.15</text>
<text class="d" x="281.5" y="306.07" textLength="12.86" lengthAdjust="spacingAndGlyphs" style="font-size:8.8px">2.15</text>
<text class="d" x="329.5" y="306.27" textLength="12.86" lengthAdjust="spacingAndGlyphs" style="font-size:8.8px">0.10</text>
<text class="d" x="346.5" y="306.17" textLength="12.86" lengthAdjust="spacingAndGlyphs" style="font-size:8.8px">1.50</text>
<text class="d" x="382.7" y="306.07" textLength="12.86" lengthAdjust="spacingAndGlyphs" style="font-size:8.8px">0.10</text>
<text class="d" x="402.5" y="305.97" textLength="12.86" lengthAdjust="spacingAndGlyphs" style="font-size:8.8px">1.20</text>
<text class="d" x="432.5" y="306.57" textLength="12.86" lengthAdjust="spacingAndGlyphs" style="font-size:8.8px">0.10</text>
<text class="d" x="521.1" y="306.17" textLength="12.86" lengthAdjust="spacingAndGlyphs" style="font-size:8.8px">5.90</text>
<text class="d" x="640.5" y="305.57" textLength="12.86" lengthAdjust="spacingAndGlyphs" style="font-size:8.8px">0.30</text>
<text class="d" x="76.7" y="650.57" textLength="12.86" lengthAdjust="spacingAndGlyphs" style="font-size:8.8px">0.30</text>
<text class="d" x="169.7" y="649.77" textLength="12.86" lengthAdjust="spacingAndGlyphs" style="font-size:8.8px">4.30</text>
<text class="d" x="262.7" y="652.97" textLength="12.86" lengthAdjust="spacingAndGlyphs" style="font-size:8.8px">0.30</text>
<text class="d" x="233.1" y="607.57" textLength="12.86" lengthAdjust="spacingAndGlyphs" style="font-size:8.8px">0.20</text>
<text class="d" x="295" y="606.47" textLength="12.86" lengthAdjust="spacingAndGlyphs" style="font-size:8.8px">2.65</text>
<text class="d" x="352.1" y="607.77" textLength="12.86" lengthAdjust="spacingAndGlyphs" style="font-size:8.8px">0.10</text>
<text class="d" x="482.9" y="606.77" textLength="12.86" lengthAdjust="spacingAndGlyphs" style="font-size:8.8px">8.15</text>
<text class="d" x="639.9" y="607.17" textLength="12.86" lengthAdjust="spacingAndGlyphs" style="font-size:8.8px">0.30</text>
<text class="d" x="368.8" y="360.07" textLength="12.86" lengthAdjust="spacingAndGlyphs" style="font-size:8.8px">2.80</text>
<text class="d" x="150" y="489.47" textLength="12.86" lengthAdjust="spacingAndGlyphs" style="font-size:8.8px">3.15</text>
<text class="d" x="269.1" y="574.17" textLength="12.86" lengthAdjust="spacingAndGlyphs" style="font-size:8.8px">1.10</text>
<text class="d" x="112.2" y="271.97" textLength="12.86" lengthAdjust="spacingAndGlyphs" transform="rotate(-90 112.2 268.8)" style="font-size:8.8px">0.30</text>
<text class="d" x="110.9" y="356.87" textLength="12.86" lengthAdjust="spacingAndGlyphs" transform="rotate(-90 110.9 353.7)" style="font-size:8.8px">3.75</text>
<text class="d" x="110.9" y="412.67" textLength="12.86" lengthAdjust="spacingAndGlyphs" transform="rotate(-90 110.9 409.5)" style="font-size:8.8px">0.60</text>
<text class="d" x="110.9" y="431.37" textLength="12.86" lengthAdjust="spacingAndGlyphs" transform="rotate(-90 110.9 428.2)" style="font-size:8.8px">0.10</text>
<text class="d" x="110.9" y="475.87" textLength="12.86" lengthAdjust="spacingAndGlyphs" transform="rotate(-90 110.9 472.7)" style="font-size:8.8px">1.90</text>
<text class="d" x="110.9" y="520.87" textLength="12.86" lengthAdjust="spacingAndGlyphs" transform="rotate(-90 110.9 517.7)" style="font-size:8.8px">0.10</text>
<text class="d" x="110.9" y="541.97" textLength="12.86" lengthAdjust="spacingAndGlyphs" transform="rotate(-90 110.9 538.8)" style="font-size:8.8px">0.60</text>
<text class="d" x="110.9" y="604.57" textLength="12.86" lengthAdjust="spacingAndGlyphs" transform="rotate(-90 110.9 601.4)" style="font-size:8.8px">4.15</text>
<text class="d" x="112.2" y="693.47" textLength="12.86" lengthAdjust="spacingAndGlyphs" transform="rotate(-90 112.2 690.3)" style="font-size:8.8px">0.30</text>
<text class="d" x="333.1" y="358.07" textLength="12.86" lengthAdjust="spacingAndGlyphs" transform="rotate(-90 333.1 354.9)" style="font-size:8.8px">3.75</text>
<text class="d" x="360.2" y="328.77" textLength="12.86" lengthAdjust="spacingAndGlyphs" transform="rotate(-90 360.2 325.6)" style="font-size:8.8px">1.70</text>
<text class="d" x="238.3" y="444.47" textLength="12.86" lengthAdjust="spacingAndGlyphs" transform="rotate(-90 238.3 441.3)" style="font-size:8.8px">1.20</text>
<text class="d" x="435.4" y="444.37" textLength="12.86" lengthAdjust="spacingAndGlyphs" transform="rotate(-90 435.4 441.2)" style="font-size:8.8px">1.20</text>
<text class="d" x="587.9" y="271.17" textLength="12.86" lengthAdjust="spacingAndGlyphs" transform="rotate(-90 587.9 268)" style="font-size:8.8px">0.30</text>
<text class="d" x="585.9" y="378.17" textLength="12.86" lengthAdjust="spacingAndGlyphs" transform="rotate(-90 585.9 375)" style="font-size:8.8px">5.05</text>
<text class="d" x="586.1" y="481.07" textLength="12.86" lengthAdjust="spacingAndGlyphs" transform="rotate(-90 586.1 477.9)" style="font-size:8.8px">0.20</text>
<text class="d" x="586.4" y="553.67" textLength="12.86" lengthAdjust="spacingAndGlyphs" transform="rotate(-90 586.4 550.5)" style="font-size:8.8px">4.75</text>
<text class="d" x="586.9" y="654.87" textLength="12.86" lengthAdjust="spacingAndGlyphs" transform="rotate(-90 586.9 651.7)" style="font-size:8.8px">0.30</text>
<text class="l" x="165" y="357.9" textLength="27.6" lengthAdjust="spacingAndGlyphs" style="font-size:10px">Quarto</text>
<text class="l" x="164.9" y="369.6" textLength="49.1" lengthAdjust="spacingAndGlyphs" style="font-size:10px">A=15.75m2</text>
<text class="l" x="167.3" y="595.4" textLength="27.5" lengthAdjust="spacingAndGlyphs" style="font-size:10px">Quarto</text>
<text class="l" x="164.6" y="606.9" textLength="49.2" lengthAdjust="spacingAndGlyphs" style="font-size:10px">A=17.85m2</text>
<text class="l" x="282.6" y="370.8" textLength="26.5" lengthAdjust="spacingAndGlyphs" style="font-size:10px">Banho</text>
<text class="l" x="281.8" y="381.3" textLength="43.8" lengthAdjust="spacingAndGlyphs" style="font-size:10px">A=7.34m2</text>
<text class="l" x="371" y="374.9" textLength="33.7" lengthAdjust="spacingAndGlyphs" style="font-size:10px">T. roupa</text>
<text class="l" x="367.5" y="385.9" textLength="44.2" lengthAdjust="spacingAndGlyphs" style="font-size:10px">A=8.16m2</text>
<text class="l" x="397.2" y="317.6" textLength="17" lengthAdjust="spacingAndGlyphs" style="font-size:8.6px">Des.</text>
<text class="l" x="396.5" y="327.5" textLength="35.3" lengthAdjust="spacingAndGlyphs" style="font-size:8.9px">A=2.04m2</text>
<text class="l" x="493" y="354.8" textLength="33.2" lengthAdjust="spacingAndGlyphs" style="font-size:10px">Cozinha</text>
<text class="l" x="489.3" y="369.6" textLength="49" lengthAdjust="spacingAndGlyphs" style="font-size:10px">A=31.05m2</text>
<text class="l" x="300.6" y="531.5" textLength="14.4" lengthAdjust="spacingAndGlyphs" style="font-size:10px">Hall</text>
<text class="l" x="300.2" y="543.1" textLength="44.1" lengthAdjust="spacingAndGlyphs" style="font-size:10px">A=9.50m2</text>
<text class="l" x="459.3" y="550.3" textLength="53.5" lengthAdjust="spacingAndGlyphs" style="font-size:10px">Sala Comum</text>
<text class="l" x="462.9" y="564.5" textLength="49.7" lengthAdjust="spacingAndGlyphs" style="font-size:10px">A=38.71m2</text>
<text class="l" x="157.3" y="469.2" textLength="14.2" lengthAdjust="spacingAndGlyphs" style="font-size:7px">W.C.</text>
<text class="l" x="158.8" y="478" textLength="43.1" lengthAdjust="spacingAndGlyphs" style="font-size:10px">A=5.98m2</text>
<text class="l" x="495.4" y="221.9" textLength="30.5" lengthAdjust="spacingAndGlyphs" style="font-size:10px">Terraço</text>
<rect class="lv" x="152.8" y="321.8" width="33.8" height="11"/>
<text class="lt" x="169.7" y="330.6">98.70</text>
<rect class="lv" x="152.3" y="560.4" width="33.8" height="11"/>
<text class="lt" x="169.2" y="569.2">98.70</text>
<rect class="lv" x="303" y="579.8" width="33.8" height="11"/>
<text class="lt" x="319.9" y="588.6">98.70</text>
<rect class="lv" x="404.7" y="585.5" width="33.8" height="11"/>
<text class="lt" x="421.6" y="594.3">98.70</text>
<rect class="lv" x="450.5" y="318.9" width="33.8" height="11"/>
<text class="lt" x="467.4" y="327.7">98.70</text>
<rect class="lv" x="420.7" y="236.8" width="33.8" height="11"/>
<text class="lt" x="437.6" y="245.6">98.65</text>
<rect class="lv" x="273.4" y="682.5" width="33.8" height="11"/>
<text class="lt" x="290.3" y="691.3">98.65</text>
</g>
</g>
</svg>
</body></html>
